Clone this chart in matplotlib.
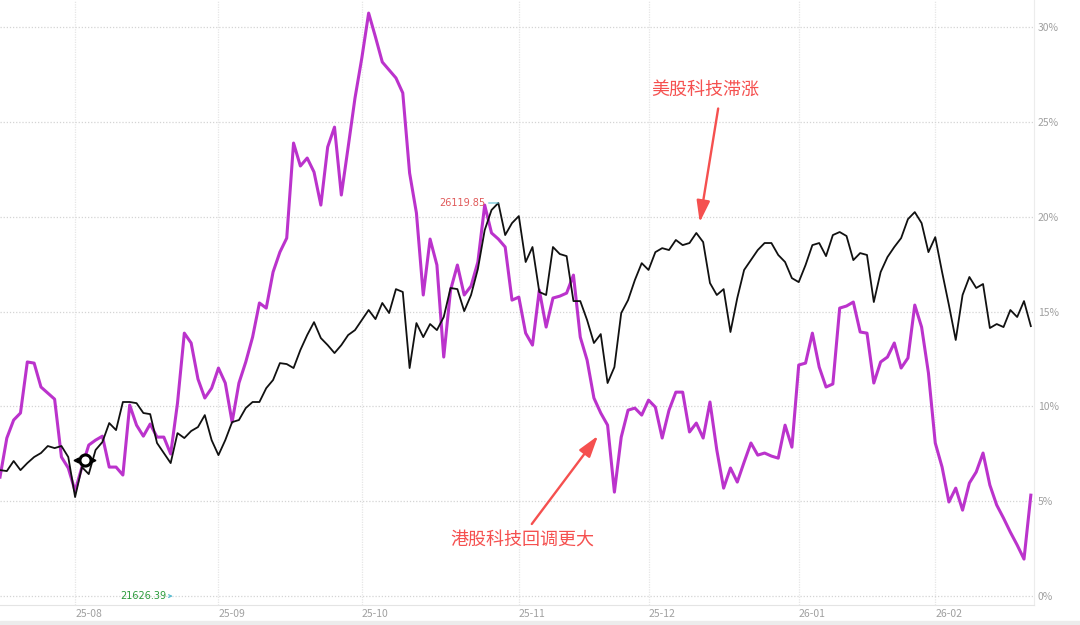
import matplotlib
matplotlib.use("Agg")
import matplotlib.pyplot as plt
from matplotlib.ticker import FixedLocator, FuncFormatter

plt.rcParams['font.family'] = ['Noto Sans CJK SC', 'DejaVu Sans']

# Cumulative change (%) per trading day
us_tech = [
    6.64, 6.59, 7.12, 6.64, 7.01, 7.33, 7.54, 7.91, 7.80, 7.91,
    7.33, 5.22, 6.80, 6.43, 7.70, 8.12, 9.12, 8.75, 10.23, 10.23,
    10.17, 9.65, 9.59, 8.07, 7.54, 7.01, 8.59, 8.33, 8.70, 8.91,
    9.54, 8.22, 7.43, 8.22, 9.17, 9.28, 9.91, 10.23, 10.23, 10.96,
    11.39, 12.28, 12.23, 12.02, 12.97, 13.76, 14.44, 13.60, 13.23, 12.81,
    13.23, 13.76, 14.02, 14.55, 15.08, 14.60, 15.45, 14.92, 16.18, 16.03,
    12.02, 14.39, 13.65, 14.34, 14.02, 14.71, 16.24, 16.18, 15.02, 15.87,
    17.24, 19.29, 20.35, 20.72, 19.03, 19.66, 20.03, 17.61, 18.40, 16.03,
    15.87, 18.40, 18.03, 17.92, 15.55, 15.55, 14.55, 13.34, 13.81, 11.23,
    12.07, 14.92, 15.60, 16.66, 17.55, 17.19, 18.13, 18.34, 18.24, 18.77,
    18.50, 18.61, 19.14, 18.66, 16.50, 15.87, 16.18, 13.92, 15.71, 17.19,
    17.71, 18.24, 18.61, 18.61, 17.98, 17.61, 16.76, 16.55, 17.45, 18.50,
    18.61, 17.92, 19.03, 19.19, 18.98, 17.71, 18.08, 17.98, 15.50, 17.08,
    17.87, 18.40, 18.87, 19.87, 20.24, 19.66, 18.13, 18.92, 17.08, 15.34,
    13.50, 15.87, 16.82, 16.24, 16.45, 14.13, 14.34, 14.18, 15.08, 14.71,
    15.55, 14.23,
]

hk_tech = [
    6.27, 8.33, 9.28, 9.65, 12.34, 12.28, 11.02, 10.70, 10.38, 7.33,
    6.75, 5.54, 6.80, 7.96, 8.22, 8.43, 6.80, 6.80, 6.38, 10.07,
    9.01, 8.43, 9.07, 8.38, 8.38, 7.49, 10.17, 13.86, 13.34, 11.44,
    10.44, 10.96, 12.02, 11.23, 9.17, 11.23, 12.34, 13.65, 15.45, 15.18,
    17.08, 18.13, 18.87, 23.88, 22.67, 23.09, 22.35, 20.61, 23.67, 24.72,
    21.14, 23.67, 26.25, 28.36, 30.73, 29.47, 28.15, 27.73, 27.31, 26.52,
    22.30, 20.19, 15.87, 18.82, 17.45, 12.60, 16.13, 17.45, 15.87, 16.34,
    17.61, 20.61, 19.14, 18.82, 18.40, 15.60, 15.76, 13.86, 13.23, 16.13,
    14.18, 15.71, 15.81, 15.97, 16.92, 13.65, 12.44, 10.44, 9.65, 9.01,
    5.48, 8.38, 9.80, 9.91, 9.54, 10.33, 9.96, 8.33, 9.80, 10.75,
    10.75, 8.65, 9.12, 8.33, 10.23, 7.70, 5.69, 6.75, 6.01, 7.06,
    8.07, 7.43, 7.54, 7.38, 7.27, 9.01, 7.85, 12.18, 12.28, 13.86,
    12.07, 11.02, 11.18, 15.18, 15.29, 15.50, 13.92, 13.86, 11.23, 12.34,
    12.60, 13.34, 12.02, 12.55, 15.34, 14.18, 11.76, 8.07, 6.80, 4.96,
    5.69, 4.53, 5.96, 6.54, 7.54, 5.85, 4.80, 4.11, 3.37, 2.69,
    1.95, 5.32,
]

month_labels = ["25-08", "25-09", "25-10", "25-11", "25-12", "26-01", "26-02"]
month_start_idx = [11, 32, 53, 76, 95, 117, 137]
pct_ticks = [0, 5, 10, 15, 20, 25, 30]

days = list(range(len(us_tech)))

RED = "#f5504f"
GRID = "#d4d4d4"
LABEL = "#a0a0a0"

fig = plt.figure(figsize=(10.8, 6.25), dpi=100)
ax = fig.add_axes([0.0, 0.032, 0.957, 0.968])

ax.plot(days, us_tech, color="#111111", linewidth=1.3, zorder=3)
ax.plot(days, hk_tech, color="#bb33cc", linewidth=2.2, zorder=2)

ax.set_xlim(0, 151.4)
ax.set_ylim(-0.47, 31.42)

# grid
ax.xaxis.set_major_locator(FixedLocator(month_start_idx))
ax.yaxis.set_major_locator(FixedLocator(pct_ticks))
ax.grid(True, axis="y", color=GRID, linestyle=(0, (1, 1.5)), linewidth=0.9)
ax.grid(True, axis="x", color="#e6e6e6", linestyle=(0, (1, 1)), linewidth=0.9)

ax.yaxis.tick_right()
ax.yaxis.set_major_formatter(FuncFormatter(lambda v, p: f"{v:.0f}%"))
ax.tick_params(axis="y", length=0, pad=3, labelsize=7.5, labelcolor=LABEL)
ax.set_xticklabels(month_labels)
ax.tick_params(axis="x", length=0, pad=3, labelsize=7.5, labelcolor=LABEL)
for lbl in ax.get_xticklabels():
    lbl.set_horizontalalignment("left")

for side in ["top", "left"]:
    ax.spines[side].set_visible(False)
ax.spines["bottom"].set_color("#e4e4e4")
ax.spines["right"].set_color("#ececec")

# bottom band of the screenshot
fig.patches.append(plt.Rectangle((0, 0), 1, 0.006, transform=fig.transFigure,
                                 color="#ececec", zorder=0))

# drag handle marker
hx = month_start_idx[0] + 1
hy = us_tech[hx] + 0.37
ax.plot(hx + 0.4, hy, marker="o", markersize=8, markerfacecolor="white",
        markeredgecolor="black", markeredgewidth=2.2, zorder=5)
ax.plot(hx - 0.8, hy, marker="<", markersize=3.5, color="black", zorder=5)
ax.plot(hx + 1.6, hy, marker=">", markersize=3.5, color="black", zorder=5)

# max / min price labels
imax = us_tech.index(max(us_tech))
ax.annotate("26119.85", xy=(imax, us_tech[imax]), xytext=(-9, 0),
            textcoords="offset points", ha="right", va="center",
            fontsize=7, color="#e05a5a", family="DejaVu Sans",
            arrowprops=dict(arrowstyle="-", color="#5bbcd0", lw=0.8,
                            shrinkA=0, shrinkB=0))
ax.annotate("21626.39", xy=(25.3, 0), xytext=(17.6, 0),
            ha="left", va="center", fontsize=7, color="#2a9a3a",
            family="DejaVu Sans",
            arrowprops=dict(arrowstyle="->,head_length=0.3,head_width=0.15",
                            color="#5bbcd0", lw=0.8, shrinkA=0, shrinkB=0))

# commentary
arrow_style = dict(arrowstyle="-|>,head_length=1.3,head_width=0.4",
                   color=RED, lw=1.7, shrinkA=0, shrinkB=0)
ax.text(103.3, 26.7, "美股科技滞涨", ha="center", va="center",
        fontsize=13, color=RED)
ax.annotate("", xy=(102.5, 19.7), xytext=(105.2, 25.7), arrowprops=arrow_style)
ax.text(76.5, 3.0, "港股科技回调更大", ha="center", va="center",
        fontsize=13, color=RED)
ax.annotate("", xy=(87.6, 8.45), xytext=(77.9, 3.8), arrowprops=arrow_style)

fig.savefig("out.png", dpi=100)
